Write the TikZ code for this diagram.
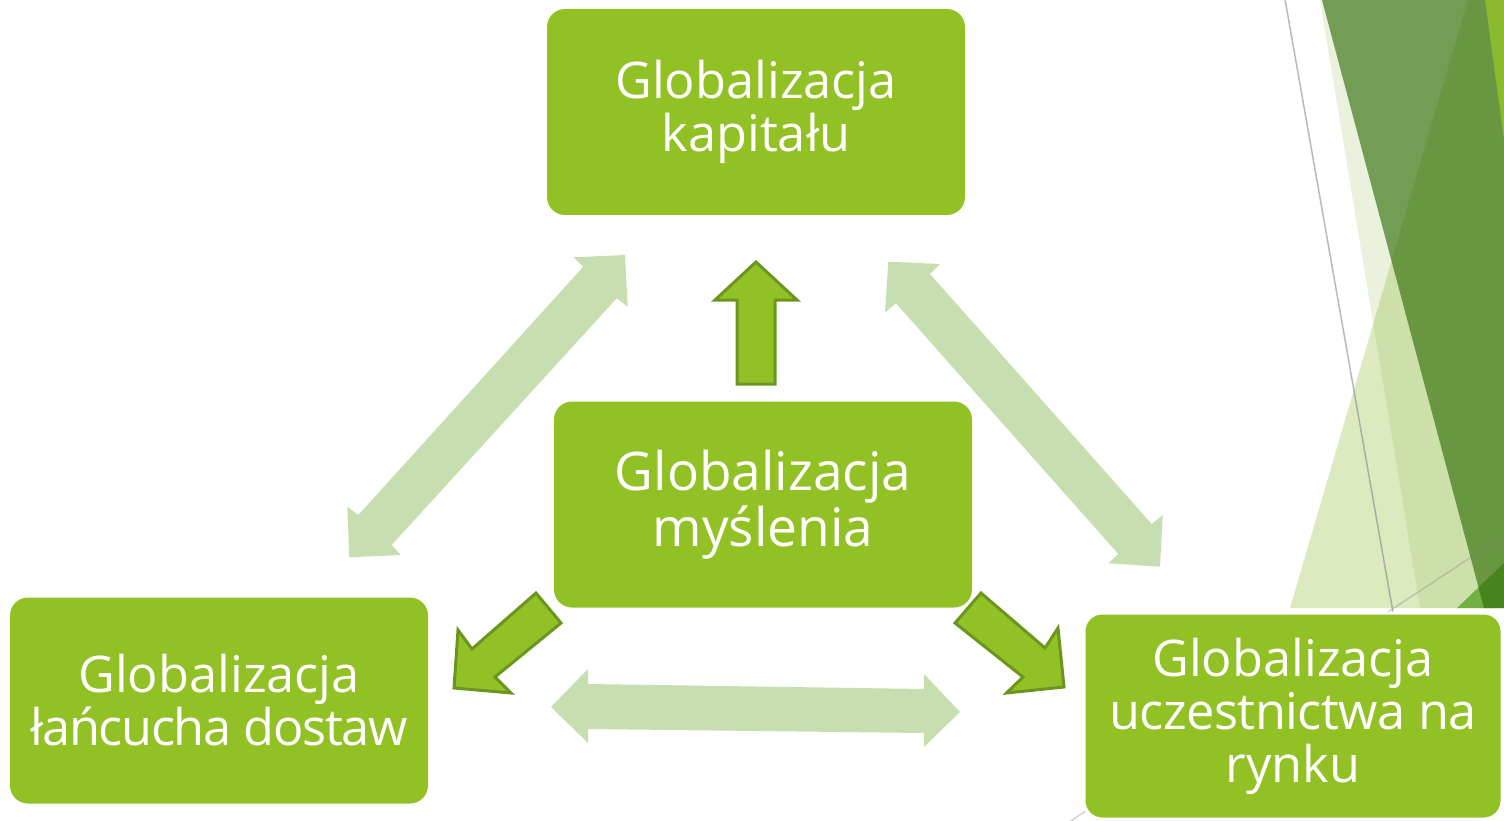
\documentclass[tikz,border=0pt]{standalone}
\usepackage{fontspec}
\setmainfont{Open Sans}
\definecolor{boxgreen}{RGB}{146,193,38}
\definecolor{arrowedge}{RGB}{107,150,30}
\definecolor{lightgreen}{RGB}{199,223,176}
\definecolor{sonegreen}{RGB}{150,185,85}
\definecolor{stwogreen}{RGB}{141,187,47}
\definecolor{sthreegreen}{RGB}{55,114,12}
\definecolor{sfourgreen}{RGB}{112,176,67}
\definecolor{sfivegreen}{RGB}{140,186,47}
\begin{document}
\begin{tikzpicture}[x=1pt,y=-1pt,
  box/.style={fill=boxgreen, rounded corners=18pt, minimum width=418pt, minimum height=206pt,
    text=white, align=center, font=\fontsize{50.5}{53}\selectfont, inner sep=0pt},
  darkarrow/.style={fill=boxgreen, draw=arrowedge, line width=3pt, line join=miter},
  lightarrow/.style={fill=lightgreen},
  decoline/.style={draw=gray, line width=1.5pt}]
\useasboundingbox (0,0) rectangle (1504,821);
% background decoration
\fill[stwogreen, opacity=0.3] (1468,0) -- (1504,0) -- (1504,608) -- (1290,608) -- cycle;
\fill[sonegreen, opacity=0.2] (1320,0) -- (1322,0) -- (1484,608) -- (1420,608) -- cycle;
\fill[sfourgreen] (1457,608) -- (1504,563) -- (1504,608) -- cycle;
\fill[sthreegreen, opacity=0.7] (1322,0) -- (1504,0) -- (1504,608) -- (1484,608) -- cycle;
\fill[sfivegreen] (1485,0) -- (1504,0) -- (1504,140) -- cycle;
\coordinate (ga) at (1284.8,-2);
\coordinate (gb) at (1394,618);
\coordinate (gc) at (1520,525);
\coordinate (gd) at (1060,828);
\draw[decoline, opacity=0.55] (ga) -- (gb);
\draw[decoline, opacity=0.35] (gc) -- (gd);
% light double arrows
\fill[lightarrow] (625,255) -- (627.7,306.7) -- (616.7,298.3) -- (391.7,545) -- (400.7,555) -- (349.3,557.3) -- (347.3,506.7) -- (358.3,515) -- (583.3,266.7) -- (573.3,257.3) -- cycle;
\fill[lightarrow] (888.3,261.7) -- (940,264) -- (930,274) -- (1151.7,524) -- (1162.7,515) -- (1160,566.7) -- (1108.3,563.3) -- (1118.3,554) -- (896,303.3) -- (885,312.3) -- cycle;
\fill[lightarrow] (551,707) -- (588,669) -- (588,684) -- (924,689) -- (924,674) -- (960,712) -- (924,747) -- (924,733) -- (588,729) -- (588,743) -- cycle;
% boxes
\node[box] (kap) at (756,112) {Globalizacja\\kapitału};
\node[box, font=\fontsize{53.2}{55.6}\selectfont] (mys) at (763,504.5) {\raisebox{-3pt}{Globalizacja}\\\raisebox{-3pt}{myślenia}};
\node[box] (lan) at (219,700.5) {Globalizacja\\{\addfontfeature{LetterSpace=-2.6}łańcucha dostaw}};
\node[box, draw=white, line width=3pt] (ryn) at (1293,716) {Globalizacja\\{\addfontfeature{LetterSpace=-1}uczestnictwa na}\\rynku};
% dark arrows
\draw[darkarrow] (737,384) -- (737,300) -- (715,300) -- (756,262) -- (797,300) -- (775,300) -- (775,384) -- cycle;
\draw[darkarrow] (536,593) -- (561,623) -- (495,677) -- (511,693) -- (454,688) -- (458,630) -- (472,649) -- cycle;
\draw[darkarrow] (981,593) -- (955,623) -- (1023,677) -- (1006.5,693) -- (1064,687) -- (1058,628) -- (1045,648) -- cycle;
\end{tikzpicture}
\end{document}
